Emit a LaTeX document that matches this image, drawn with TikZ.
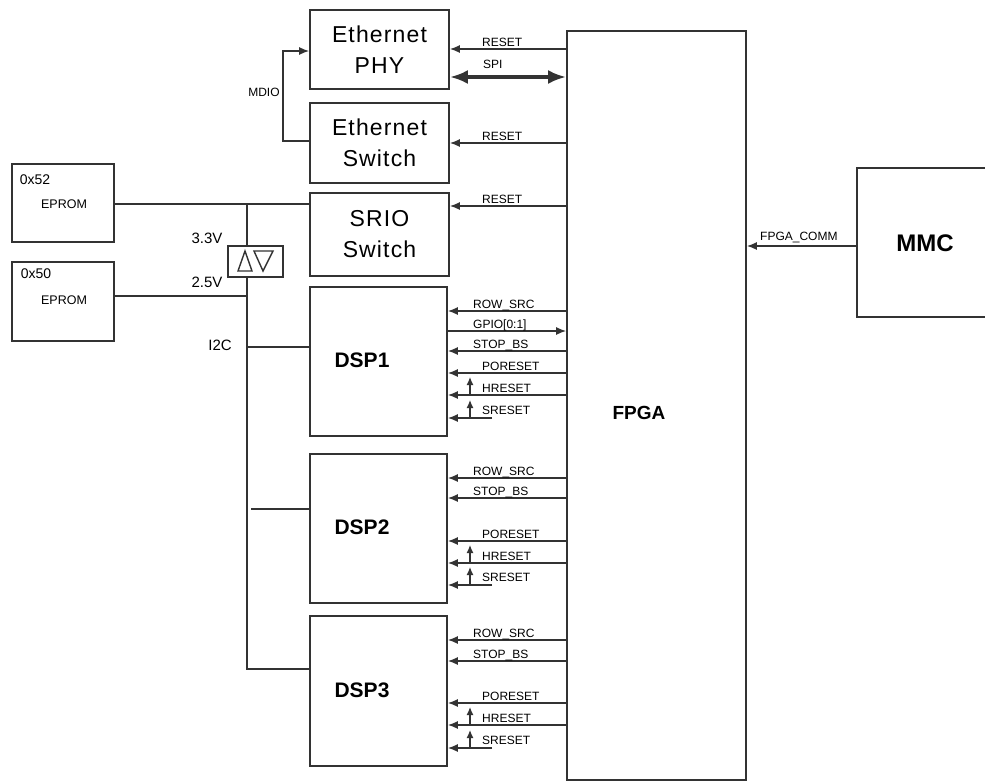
\documentclass[tikz,border=0pt]{standalone}
\usepackage{fontspec}
\setmainfont{Liberation Sans}
\newfontfamily\widefont[LetterSpace=5]{Liberation Sans}
\usetikzlibrary{arrows.meta}
\definecolor{ink}{HTML}{333333}
\begin{document}
\begin{tikzpicture}[x=1pt,y=-1pt,
  box/.style={draw=ink, line width=1.8pt, inner sep=0pt, fill=white},
  big/.style={align=center, font=\widefont\fontsize{23}{31}\selectfont},
  bold/.style={font=\bfseries\fontsize{21}{21}\selectfont},
  sig/.style={draw=ink, line width=1.3pt},
  arr/.style={sig, -{Latex[length=10pt,width=8pt]}},
  uparr/.style={sig, -{Latex[length=8pt,width=7pt]}},
  lab/.style={anchor=base west, inner sep=0pt, font=\fontsize{12}{12}\selectfont},
  small/.style={inner sep=0pt, font=\fontsize{15}{15}\selectfont}]
\clip (0,0) rectangle (985,782);

% boxes
\node[box,big,minimum width=139,minimum height=79] (phy) at (379.5,49.5) {Ethernet\\PHY};
\node[box,big,minimum width=139,minimum height=80] (esw) at (379.5,143) {Ethernet\\Switch};
\node[box,big,minimum width=139,minimum height=83] (srio) at (379.5,234.5) {SRIO\\Switch};
\node[box,minimum width=137,minimum height=149] (dsp1) at (378.5,361.5) {};
\node[box,minimum width=137,minimum height=149] (dsp2) at (378.5,528.5) {};
\node[box,minimum width=137,minimum height=150] (dsp3) at (378.5,691) {};
\node[bold] (dsp1l) at (362,360) {DSP1};
\node[bold] (dsp2l) at (362,527) {DSP2};
\node[bold] (dsp3l) at (362,690) {DSP3};
\node[box,minimum width=179,minimum height=749] (fpga) at (656.5,405.5) {};
\node[font=\bfseries\fontsize{19}{19}\selectfont] (fpgal) at (639,413) {FPGA};
\node[box,minimum width=160,minimum height=149] (mmc) at (937,242.5) {};
\node[font=\bfseries\fontsize{24}{24}\selectfont] (mmcl) at (925,243) {MMC};
\node[box,minimum width=102,minimum height=78] (e52) at (63,203) {};
\node[box,minimum width=102,minimum height=79] (e50) at (63,301.5) {};
\node[inner sep=0pt,font=\fontsize{14}{14}\selectfont] (e52a) at (35,180) {0x52};
\node[inner sep=0pt,font=\fontsize{12.5}{12.5}\selectfont] (e52b) at (64,204) {EPROM};
\node[inner sep=0pt,font=\fontsize{14}{14}\selectfont] (e50a) at (36,274) {0x50};
\node[inner sep=0pt,font=\fontsize{12.5}{12.5}\selectfont] (e50b) at (64,300) {EPROM};

% level shifter
\node[box,line width=1.5pt,minimum width=55,minimum height=31] (ls) at (255.5,261.5) {};
\draw[ink,line width=1.4pt,line join=miter] (238,271) -- (245,251) -- (252,271) -- cycle;
\draw[ink,line width=1.4pt,line join=miter] (254,251) -- (273,251) -- (263,271) -- cycle;
\node[small] (v33) at (207,238) {3.3V};
\node[small] (v25) at (207,282) {2.5V};
\node[small] (i2c) at (220,345) {I2C};
\node[inner sep=0pt,font=\fontsize{12}{12}\selectfont] (mdio) at (264,92) {MDIO};

% I2C bus
\coordinate (j1) at (247,204);
\coordinate (j3) at (247,669);
\coordinate (j2) at (251,509);
\draw[sig] (e52.east |- j1) -- (srio.west |- j1);
\draw[sig] (j1) -- (ls.north -| j1);
\draw[sig] (ls.south -| j1) -- (j3) -- (dsp3.west |- j3);
\draw[sig] (e50.east |- 0,296) -- (j1 |- 0,296);
\draw[sig] (j1 |- 0,347) -- (dsp1.west |- 0,347);
\draw[sig] (j2) -- (dsp2.west |- j2);

% MDIO
\coordinate (m1) at (283,141);
\coordinate (m2) at (283,51);
\draw[arr] (esw.west |- m1) -- (m1) -- (m2) -- (phy.west |- m2);

% FPGA to top blocks
\draw[arr] (fpga.west |- 0,49) -- (phy.east |- 0,49);
\node[lab] (rst1) at (482,46) {RESET};
\draw[ink,line width=3.5pt,{Latex[length=18pt,width=14pt]}-{Latex[length=18pt,width=14pt]}] (phy.east |- 0,77) -- (fpga.west |- 0,77);
\node[lab] (spi) at (483,68) {SPI};
\draw[arr] (fpga.west |- 0,143) -- (esw.east |- 0,143);
\node[lab] (rst2) at (482,140) {RESET};
\draw[arr] (fpga.west |- 0,206) -- (srio.east |- 0,206);
\node[lab] (rst3) at (482,203) {RESET};

% MMC
\draw[arr] (mmc.west |- 0,246) -- (fpga.east |- 0,246);
\node[lab] (fcomm) at (760,240) {FPGA\_COMM};

% DSP1 signals
\draw[arr] (fpga.west |- 0,311) -- (dsp1.east |- 0,311);
\node[lab] (d1row) at (473,308) {ROW\_SRC};
\draw[arr] (dsp1.east |- 0,331) -- (fpga.west |- 0,331);
\node[lab] (d1gpio) at (473,328) {GPIO[0:1]};
\draw[arr] (fpga.west |- 0,351) -- (dsp1.east |- 0,351);
\node[lab] (d1stop) at (473,348) {STOP\_BS};
\draw[arr] (fpga.west |- 0,373) -- (dsp1.east |- 0,373);
\node[lab] (d1por) at (482,370) {PORESET};
\draw[arr] (fpga.west |- 0,395) -- (dsp1.east |- 0,395);
\node[lab] (d1hr) at (482,392) {HRESET};
\coordinate (d1se) at (492,418);
\draw[arr] (d1se) -- (dsp1.east |- d1se);
\node[lab] (d1sr) at (482,414) {SRESET};
\draw[uparr] (470,395) -- (470,377);
\draw[uparr] (470,418) -- (470,400);

% DSP2 and DSP3 signals
\foreach \d/\r/\s/\p/\h/\q in {dsp2/478/498/541/563/585, dsp3/640/661/703/725/748} {
  \draw[arr] (fpga.west |- 0,\r) -- (\d.east |- 0,\r);
  \node[lab] (\d row) at (473,\r-3) {ROW\_SRC};
  \draw[arr] (fpga.west |- 0,\s) -- (\d.east |- 0,\s);
  \node[lab] (\d stop) at (473,\s-3) {STOP\_BS};
  \draw[arr] (fpga.west |- 0,\p) -- (\d.east |- 0,\p);
  \node[lab] (\d por) at (482,\p-3) {PORESET};
  \draw[arr] (fpga.west |- 0,\h) -- (\d.east |- 0,\h);
  \node[lab] (\d hr) at (482,\h-3) {HRESET};
  \coordinate (\d se) at (492,\q);
  \draw[arr] (\d se) -- (\d.east |- 0,\q);
  \node[lab] (\d sr) at (482,\q-4) {SRESET};
  \draw[uparr] (470,\h) -- (470,\h-18);
  \draw[uparr] (470,\q) -- (470,\q-18);
}
\end{tikzpicture}
\end{document}
